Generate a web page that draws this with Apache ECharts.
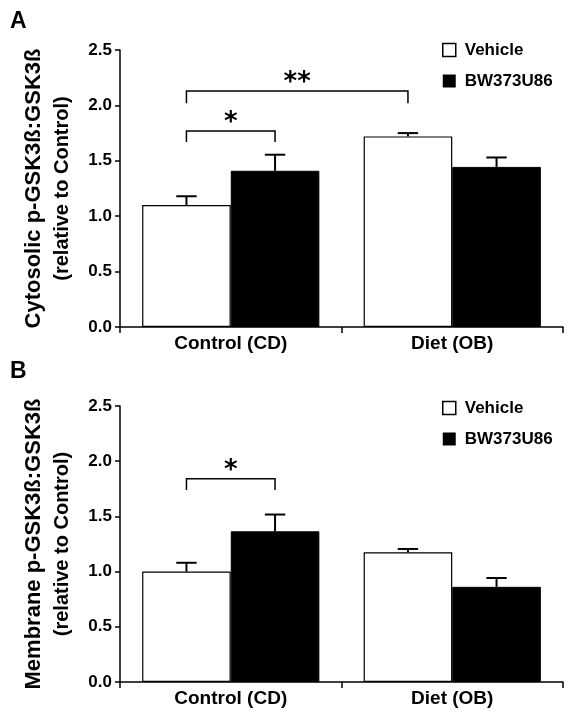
<!DOCTYPE html>
<html>
<head>
<meta charset="utf-8">
<script src="https://cdn.jsdelivr.net/npm/echarts@6/dist/echarts.min.js"></script>
<style>
html,body{margin:0;padding:0;background:#fff;}
#chart{width:568px;height:717px;}
</style>
</head>
<body>
<div id="chart"></div>
<script>
// ---- data ----
const categories = ['Control (CD)', 'Diet (OB)'];
const seriesNames = ['Vehicle', 'BW373U86'];
const yTicks = [0, 0.5, 1.0, 1.5, 2.0, 2.5];

// Panel A: cytosolic
const cytoVehicle = [1.10, 1.72];
const cytoVehicleErr = [0.08, 0.03];
const cytoBW = [1.41, 1.445];
const cytoBWErr = [0.145, 0.085];
// brackets: [cat1, group1, cat2, group2, topValue, legValue]
const cytoBrackets = [[0, 0, 0, 1, 1.77, 1.67], [0, 0, 1, 0, 2.13, 2.02]];
const cytoBracketLabels = ['*', '**'];

// Panel B: membrane
const memVehicle = [1.00, 1.175];
const memVehicleErr = [0.08, 0.03];
const memBW = [1.365, 0.862];
const memBWErr = [0.152, 0.08];
const memBrackets = [[0, 0, 0, 1, 1.84, 1.74]];
const memBracketLabels = ['*'];

const panelLetters = ['A', 'B'];
const yTitles = [['Cytosolic p-GSK3ß:GSK3ß', '(relative to Control)'], ['Membrane p-GSK3ß:GSK3ß', '(relative to Control)']];

// ---- chart ----
const FONT = 'Liberation Sans, Arial, sans-serif';
const chart = echarts.init(document.getElementById('chart'), null, {renderer: 'canvas'});

const grids = [
  {left: 120, top: 50, width: 443, height: 277},
  {left: 120, top: 406, width: 443, height: 276}
];

function groupOffset(g) { return g === 0 ? -0.2 : 0.2; }

function errRender(params, api) {
  const cat = api.value(0), g = api.value(1), v = api.value(2), e = api.value(3);
  const band = api.size([1, 0])[0];
  const base = api.coord([cat, v]);
  const top = api.coord([cat, v + e]);
  const x = base[0] + groupOffset(g) * band;
  const h = band * 0.046;
  const st = {stroke: '#000', lineWidth: 2, fill: null};
  return {type: 'group', children: [
    {type: 'line', shape: {x1: x, y1: base[1], x2: x, y2: top[1]}, style: st},
    {type: 'line', shape: {x1: x - h, y1: top[1], x2: x + h, y2: top[1]}, style: st}
  ]};
}

function bracketRender(labels) {
  return function (params, api) {
    const c1 = api.value(0), g1 = api.value(1), c2 = api.value(2), g2 = api.value(3);
    const yt = api.value(4), yl = api.value(5);
    const band = api.size([1, 0])[0];
    const p1 = api.coord([c1, yt]);
    const p2 = api.coord([c2, yt]);
    const x1 = p1[0] + groupOffset(g1) * band;
    const x2 = p2[0] + groupOffset(g2) * band;
    const yTop = p1[1];
    const yLeg = api.coord([c1, yl])[1];
    const st = {stroke: '#000', lineWidth: 1.5, fill: null};
    return {type: 'group', children: [
      {type: 'polyline', shape: {points: [[x1, yLeg], [x1, yTop], [x2, yTop], [x2, yLeg]]}, style: st},
      {type: 'text', style: {text: labels[params.dataIndex], x: (x1 + x2) / 2, y: yTop - 8,
        align: 'center', verticalAlign: 'middle', font: 'bold 26px DejaVu Sans', fill: '#000'}}
    ]};
  };
}

function mkErrData(vals, errs, g) { return vals.map((v, i) => [i, g, v, errs[i]]); }

const xAxes = grids.map((g, i) => ({
  type: 'category', gridIndex: i, data: categories,
  axisLine: {lineStyle: {color: '#000', width: 1.5}},
  axisTick: {show: true, length: 6, alignWithLabel: false, lineStyle: {color: '#000', width: 1.5}},
  axisLabel: {color: '#000', fontFamily: FONT, fontWeight: 'bold', fontSize: 19, margin: 7},
  splitLine: {show: false}
}));

const yAxes = grids.map((g, i) => ({
  type: 'value', gridIndex: i, min: 0, max: 2.5, interval: 0.5,
  axisLine: {show: true, lineStyle: {color: '#000', width: 1.5}},
  axisTick: {show: true, length: 5, lineStyle: {color: '#000', width: 1.5}},
  axisLabel: {color: '#000', fontFamily: FONT, fontWeight: 'bold', fontSize: 17, margin: 8,
    formatter: v => yTicks.includes(v) ? v.toFixed(1) : ''},
  splitLine: {show: false},
  name: '{a|' + yTitles[i][0] + '}\n{b|' + yTitles[i][1] + '}',
  nameLocation: 'middle', nameRotate: 90, nameGap: 44,
  nameTextStyle: {color: '#000', align: 'center',
    rich: {
      a: {fontFamily: FONT, fontWeight: 'bold', fontSize: 22, lineHeight: 28, color: '#000'},
      b: {fontFamily: FONT, fontWeight: 'bold', fontSize: 20, lineHeight: 28, color: '#000'}
    }}
}));

const vehStyle = {color: '#fff', borderColor: '#000', borderWidth: 1.2};
const bwStyle = {color: '#000', borderColor: '#000', borderWidth: 1};

const panelData = [
  {veh: cytoVehicle, vehErr: cytoVehicleErr, bw: cytoBW, bwErr: cytoBWErr, br: cytoBrackets, brL: cytoBracketLabels},
  {veh: memVehicle, vehErr: memVehicleErr, bw: memBW, bwErr: memBWErr, br: memBrackets, brL: memBracketLabels}
];

const series = [];
panelData.forEach((p, i) => {
  series.push({name: seriesNames[0], type: 'bar', xAxisIndex: i, yAxisIndex: i, data: p.veh,
    barGap: '0%', barCategoryGap: '20%', itemStyle: vehStyle, silent: true});
  series.push({name: seriesNames[1], type: 'bar', xAxisIndex: i, yAxisIndex: i, data: p.bw,
    barGap: '0%', barCategoryGap: '20%', itemStyle: bwStyle, silent: true});
  series.push({type: 'custom', xAxisIndex: i, yAxisIndex: i, renderItem: errRender,
    data: mkErrData(p.veh, p.vehErr, 0).concat(mkErrData(p.bw, p.bwErr, 1)), z: 5, silent: true});
  series.push({type: 'custom', xAxisIndex: i, yAxisIndex: i, renderItem: bracketRender(p.brL),
    data: p.br, z: 5, silent: true});
});

const legendData = [
  {name: seriesNames[0], itemStyle: {color: '#fff', borderColor: '#000', borderWidth: 1.5}},
  {name: seriesNames[1], itemStyle: {color: '#000', borderColor: '#000', borderWidth: 0}}
];
const legends = [40, 398].map(t => ({
  top: t, left: 442, padding: 0, orient: 'vertical', itemWidth: 13, itemHeight: 13, itemGap: 11,
  icon: 'rect', data: legendData, selectedMode: false,
  textStyle: {color: '#000', fontFamily: FONT, fontWeight: 'bold', fontSize: 17, lineHeight: 18, padding: [2, 0, 0, 4]}
}));

chart.setOption({
  backgroundColor: '#fff',
  animation: false,
  title: [
    {text: panelLetters[0], left: 5, top: 5, textStyle: {color: '#000', fontFamily: FONT, fontWeight: 'bold', fontSize: 23}},
    {text: panelLetters[1], left: 5, top: 355, textStyle: {color: '#000', fontFamily: FONT, fontWeight: 'bold', fontSize: 23}}
  ],
  legend: legends,
  grid: grids,
  xAxis: xAxes,
  yAxis: yAxes,
  series: series
});
</script>
</body>
</html>
